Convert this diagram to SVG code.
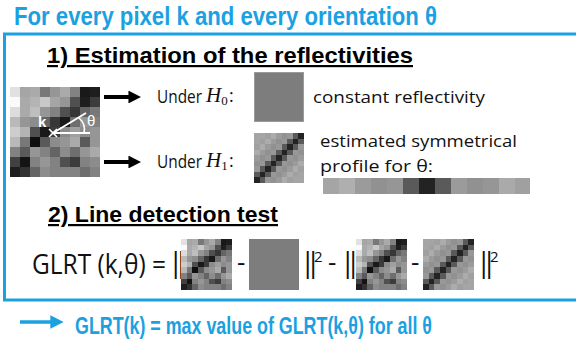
<svg xmlns="http://www.w3.org/2000/svg" xmlns:xlink="http://www.w3.org/1999/xlink" width="576" height="347" viewBox="0 0 576 347">
  <style>
    .blue { fill: #1ba1e2; font-family: "Liberation Sans", Arial, sans-serif; font-weight: bold; }
    .head { fill: #000; font-family: "Liberation Sans", Arial, sans-serif; font-weight: bold; text-decoration: underline; }
    .sans { fill: #111; font-family: "Open Sans", "Noto Sans", sans-serif; }
    .math { fill: #111; font-family: "Liberation Serif", "Times New Roman", serif; font-style: italic; }
    .bar { fill: #111; font-family: "Open Sans", "Noto Sans", sans-serif; font-size: 28px; }
    .frame { fill: none; stroke: #1ba1e2; stroke-width: 3; }
    .arrow { stroke: #000; stroke-width: 4; fill: none; }
  </style>
  <defs>
    <marker id="headBlack" viewBox="0 0 10 10" refX="2" refY="5" markerWidth="3.2" markerHeight="3.2" orient="auto" markerUnits="strokeWidth">
      <path d="M0,0 L10,5 L0,10 Z" fill="#000"/>
    </marker>
    <marker id="headBlue" viewBox="0 0 10 10" refX="2" refY="5" markerWidth="3.8" markerHeight="3.8" orient="auto" markerUnits="strokeWidth">
      <path d="M0,0 L10,5 L0,10 Z" fill="#1ba1e2"/>
    </marker>

    <!-- noisy 9x9 neighbourhood around pixel k -->
    <symbol id="noisy" viewBox="0 0 9 9" preserveAspectRatio="none" shape-rendering="crispEdges">
      <g transform="translate(0,0)">
        <rect x="0" width="1" height="1" fill="#e1e1e1"/><rect x="1" width="1" height="1" fill="#a5a5a5"/><rect x="2" width="1" height="1" fill="#aaaaaa"/><rect x="3" width="1" height="1" fill="#787878"/><rect x="4" width="1" height="1" fill="#969696"/><rect x="5" width="1" height="1" fill="#aaaaaa"/><rect x="6" width="1" height="1" fill="#828282"/><rect x="7" width="1" height="1" fill="#191919"/><rect x="8" width="1" height="1" fill="#1e1e1e"/>
      </g>
      <g transform="translate(0,1)">
        <rect x="0" width="1" height="1" fill="#fafafa"/><rect x="1" width="1" height="1" fill="#aaaaaa"/><rect x="2" width="1" height="1" fill="#b4b4b4"/><rect x="3" width="1" height="1" fill="#c8c8c8"/><rect x="4" width="1" height="1" fill="#a5a5a5"/><rect x="5" width="1" height="1" fill="#969696"/><rect x="6" width="1" height="1" fill="#505050"/><rect x="7" width="1" height="1" fill="#1e1e1e"/><rect x="8" width="1" height="1" fill="#3c3c3c"/>
      </g>
      <g transform="translate(0,2)">
        <rect x="0" width="1" height="1" fill="#dcdcdc"/><rect x="1" width="1" height="1" fill="#aaaaaa"/><rect x="2" width="1" height="1" fill="#bebebe"/><rect x="3" width="1" height="1" fill="#969696"/><rect x="4" width="1" height="1" fill="#828282"/><rect x="5" width="1" height="1" fill="#505050"/><rect x="6" width="1" height="1" fill="#373737"/><rect x="7" width="1" height="1" fill="#646464"/><rect x="8" width="1" height="1" fill="#787878"/>
      </g>
      <g transform="translate(0,3)">
        <rect x="0" width="1" height="1" fill="#b9b9b9"/><rect x="1" width="1" height="1" fill="#969696"/><rect x="2" width="1" height="1" fill="#8c8c8c"/><rect x="3" width="1" height="1" fill="#646464"/><rect x="4" width="1" height="1" fill="#373737"/><rect x="5" width="1" height="1" fill="#191919"/><rect x="6" width="1" height="1" fill="#6e6e6e"/><rect x="7" width="1" height="1" fill="#969696"/><rect x="8" width="1" height="1" fill="#828282"/>
      </g>
      <g transform="translate(0,4)">
        <rect x="0" width="1" height="1" fill="#cdcdcd"/><rect x="1" width="1" height="1" fill="#b4b4b4"/><rect x="2" width="1" height="1" fill="#505050"/><rect x="3" width="1" height="1" fill="#191919"/><rect x="4" width="1" height="1" fill="#3c3c3c"/><rect x="5" width="1" height="1" fill="#8c8c8c"/><rect x="6" width="1" height="1" fill="#a0a0a0"/><rect x="7" width="1" height="1" fill="#8c8c8c"/><rect x="8" width="1" height="1" fill="#969696"/>
      </g>
      <g transform="translate(0,5)">
        <rect x="0" width="1" height="1" fill="#b9b9b9"/><rect x="1" width="1" height="1" fill="#787878"/><rect x="2" width="1" height="1" fill="#0f0f0f"/><rect x="3" width="1" height="1" fill="#5a5a5a"/><rect x="4" width="1" height="1" fill="#8c8c8c"/><rect x="5" width="1" height="1" fill="#969696"/><rect x="6" width="1" height="1" fill="#aaaaaa"/><rect x="7" width="1" height="1" fill="#5a5a5a"/><rect x="8" width="1" height="1" fill="#969696"/>
      </g>
      <g transform="translate(0,6)">
        <rect x="0" width="1" height="1" fill="#828282"/><rect x="1" width="1" height="1" fill="#5a5a5a"/><rect x="2" width="1" height="1" fill="#969696"/><rect x="3" width="1" height="1" fill="#828282"/><rect x="4" width="1" height="1" fill="#646464"/><rect x="5" width="1" height="1" fill="#8c8c8c"/><rect x="6" width="1" height="1" fill="#6e6e6e"/><rect x="7" width="1" height="1" fill="#969696"/><rect x="8" width="1" height="1" fill="#aaaaaa"/>
      </g>
      <g transform="translate(0,7)">
        <rect x="0" width="1" height="1" fill="#414141"/><rect x="1" width="1" height="1" fill="#141414"/><rect x="2" width="1" height="1" fill="#828282"/><rect x="3" width="1" height="1" fill="#969696"/><rect x="4" width="1" height="1" fill="#828282"/><rect x="5" width="1" height="1" fill="#505050"/><rect x="6" width="1" height="1" fill="#3c3c3c"/><rect x="7" width="1" height="1" fill="#828282"/><rect x="8" width="1" height="1" fill="#8c8c8c"/>
      </g>
      <g transform="translate(0,8)">
        <rect x="0" width="1" height="1" fill="#1e1e1e"/><rect x="1" width="1" height="1" fill="#323232"/><rect x="2" width="1" height="1" fill="#646464"/><rect x="3" width="1" height="1" fill="#8c8c8c"/><rect x="4" width="1" height="1" fill="#828282"/><rect x="5" width="1" height="1" fill="#828282"/><rect x="6" width="1" height="1" fill="#828282"/><rect x="7" width="1" height="1" fill="#6e6e6e"/><rect x="8" width="1" height="1" fill="#828282"/>
      </g>
    </symbol>

    <!-- constant reflectivity model (H0) -->
    <symbol id="flat" viewBox="0 0 9 9" preserveAspectRatio="none">
      <rect width="9" height="9" fill="#7d7d7d"/>
    </symbol>

    <!-- symmetrical line model (H1), dark band along the anti-diagonal -->
    <symbol id="line" viewBox="0 0 9 9" preserveAspectRatio="none" shape-rendering="crispEdges">
      <g transform="translate(0,0)">
        <rect x="0" width="1" height="1" fill="#a5a5a5"/><rect x="1" width="1" height="1" fill="#a5a5a5"/><rect x="2" width="1" height="1" fill="#a0a0a0"/><rect x="3" width="1" height="1" fill="#acacac"/><rect x="4" width="1" height="1" fill="#9b9b9b"/><rect x="5" width="1" height="1" fill="#919191"/><rect x="6" width="1" height="1" fill="#989898"/><rect x="7" width="1" height="1" fill="#5a5a5a"/><rect x="8" width="1" height="1" fill="#232323"/>
      </g>
      <g transform="translate(0,1)">
        <rect x="0" width="1" height="1" fill="#a5a5a5"/><rect x="1" width="1" height="1" fill="#a0a0a0"/><rect x="2" width="1" height="1" fill="#acacac"/><rect x="3" width="1" height="1" fill="#9b9b9b"/><rect x="4" width="1" height="1" fill="#919191"/><rect x="5" width="1" height="1" fill="#989898"/><rect x="6" width="1" height="1" fill="#5a5a5a"/><rect x="7" width="1" height="1" fill="#232323"/><rect x="8" width="1" height="1" fill="#5a5a5a"/>
      </g>
      <g transform="translate(0,2)">
        <rect x="0" width="1" height="1" fill="#a0a0a0"/><rect x="1" width="1" height="1" fill="#acacac"/><rect x="2" width="1" height="1" fill="#9b9b9b"/><rect x="3" width="1" height="1" fill="#919191"/><rect x="4" width="1" height="1" fill="#989898"/><rect x="5" width="1" height="1" fill="#5a5a5a"/><rect x="6" width="1" height="1" fill="#232323"/><rect x="7" width="1" height="1" fill="#5a5a5a"/><rect x="8" width="1" height="1" fill="#989898"/>
      </g>
      <g transform="translate(0,3)">
        <rect x="0" width="1" height="1" fill="#acacac"/><rect x="1" width="1" height="1" fill="#9b9b9b"/><rect x="2" width="1" height="1" fill="#919191"/><rect x="3" width="1" height="1" fill="#989898"/><rect x="4" width="1" height="1" fill="#5a5a5a"/><rect x="5" width="1" height="1" fill="#232323"/><rect x="6" width="1" height="1" fill="#5a5a5a"/><rect x="7" width="1" height="1" fill="#989898"/><rect x="8" width="1" height="1" fill="#919191"/>
      </g>
      <g transform="translate(0,4)">
        <rect x="0" width="1" height="1" fill="#9b9b9b"/><rect x="1" width="1" height="1" fill="#919191"/><rect x="2" width="1" height="1" fill="#989898"/><rect x="3" width="1" height="1" fill="#5a5a5a"/><rect x="4" width="1" height="1" fill="#232323"/><rect x="5" width="1" height="1" fill="#5a5a5a"/><rect x="6" width="1" height="1" fill="#989898"/><rect x="7" width="1" height="1" fill="#919191"/><rect x="8" width="1" height="1" fill="#9b9b9b"/>
      </g>
      <g transform="translate(0,5)">
        <rect x="0" width="1" height="1" fill="#919191"/><rect x="1" width="1" height="1" fill="#989898"/><rect x="2" width="1" height="1" fill="#5a5a5a"/><rect x="3" width="1" height="1" fill="#232323"/><rect x="4" width="1" height="1" fill="#5a5a5a"/><rect x="5" width="1" height="1" fill="#989898"/><rect x="6" width="1" height="1" fill="#919191"/><rect x="7" width="1" height="1" fill="#9b9b9b"/><rect x="8" width="1" height="1" fill="#acacac"/>
      </g>
      <g transform="translate(0,6)">
        <rect x="0" width="1" height="1" fill="#989898"/><rect x="1" width="1" height="1" fill="#5a5a5a"/><rect x="2" width="1" height="1" fill="#232323"/><rect x="3" width="1" height="1" fill="#5a5a5a"/><rect x="4" width="1" height="1" fill="#989898"/><rect x="5" width="1" height="1" fill="#919191"/><rect x="6" width="1" height="1" fill="#9b9b9b"/><rect x="7" width="1" height="1" fill="#acacac"/><rect x="8" width="1" height="1" fill="#a0a0a0"/>
      </g>
      <g transform="translate(0,7)">
        <rect x="0" width="1" height="1" fill="#5a5a5a"/><rect x="1" width="1" height="1" fill="#232323"/><rect x="2" width="1" height="1" fill="#5a5a5a"/><rect x="3" width="1" height="1" fill="#989898"/><rect x="4" width="1" height="1" fill="#919191"/><rect x="5" width="1" height="1" fill="#9b9b9b"/><rect x="6" width="1" height="1" fill="#acacac"/><rect x="7" width="1" height="1" fill="#a0a0a0"/><rect x="8" width="1" height="1" fill="#a5a5a5"/>
      </g>
      <g transform="translate(0,8)">
        <rect x="0" width="1" height="1" fill="#232323"/><rect x="1" width="1" height="1" fill="#5a5a5a"/><rect x="2" width="1" height="1" fill="#989898"/><rect x="3" width="1" height="1" fill="#919191"/><rect x="4" width="1" height="1" fill="#9b9b9b"/><rect x="5" width="1" height="1" fill="#acacac"/><rect x="6" width="1" height="1" fill="#a0a0a0"/><rect x="7" width="1" height="1" fill="#a5a5a5"/><rect x="8" width="1" height="1" fill="#a5a5a5"/>
      </g>
    </symbol>
  </defs>

  <rect width="576" height="347" fill="#fff"/>

  <!-- heading -->
  <g id="title">
    <text class="blue" x="14" y="25" font-size="25" textLength="423" lengthAdjust="spacingAndGlyphs">For every pixel k and every orientation θ</text>
  </g>

  <!-- frame around the two steps -->
  <g id="frame">
    <path class="frame" d="M578,34 H4.5 V300 H578"/>
  </g>

  <!-- step 1 -->
  <g id="step1-title">
    <text class="head" x="47" y="63" font-size="22" textLength="366" lengthAdjust="spacingAndGlyphs">1)  Estimation of the reflectivities</text>
  </g>

  <g id="pixel-window">
    <use xlink:href="#noisy" x="10" y="87" width="90" height="90"/>
    <text x="38" y="127" font-family="Liberation Sans, Arial, sans-serif" font-weight="bold" font-size="15" fill="#fff">k</text>
    <path d="M49,129 l8,8 M57,129 l-8,8" stroke="#fff" stroke-width="1.6" fill="none"/>
    <path d="M53,133 L86,113 M53,133 H90" stroke="#fff" stroke-width="2" fill="none"/>
    <path d="M79,118 Q86,124 84,133" stroke="#fff" stroke-width="1.6" fill="none"/>
    <text x="87" y="126" font-family="Liberation Sans, Arial, sans-serif" font-size="15" fill="#fff">θ</text>
  </g>

  <g id="h0-model">
    <text class="sans" x="157" y="103" font-size="18" textLength="45" lengthAdjust="spacingAndGlyphs">Under</text>
    <text class="math" x="206" y="102" font-size="21">H<tspan font-size="13" font-style="normal" dy="3">0</tspan></text>
    <text class="sans" x="229" y="102" font-size="18">:</text>
    <use xlink:href="#flat" x="254" y="72" width="50" height="50"/>
    <rect x="254.5" y="72.5" width="49" height="49" fill="none" stroke="#9a9a9a" stroke-width="1"/>
    <text class="sans" x="313" y="103" font-size="17" textLength="172" lengthAdjust="spacingAndGlyphs">constant reflectivity</text>
  </g>

  <g id="h1-model">
    <text class="sans" x="157" y="168" font-size="18" textLength="45" lengthAdjust="spacingAndGlyphs">Under</text>
    <text class="math" x="206" y="167" font-size="21">H<tspan font-size="13" font-style="normal" dy="3">1</tspan></text>
    <text class="sans" x="229" y="167" font-size="18">:</text>
    <use xlink:href="#line" x="254" y="133" width="50" height="50"/>
    <text class="sans" x="320" y="147" font-size="17" textLength="197" lengthAdjust="spacingAndGlyphs">estimated symmetrical</text>
    <text class="sans" x="320" y="172" font-size="17" textLength="113" lengthAdjust="spacingAndGlyphs">profile for θ:</text>
    <g id="profile" shape-rendering="crispEdges">
      <rect x="323" y="178" width="16" height="16" fill="#a5a5a5"/>
      <rect x="339" y="178" width="16" height="16" fill="#afafaf"/>
      <rect x="355" y="178" width="16" height="16" fill="#9b9b9b"/>
      <rect x="371" y="178" width="16" height="16" fill="#919191"/>
      <rect x="387" y="178" width="16" height="16" fill="#969696"/>
      <rect x="403" y="178" width="16" height="16" fill="#5a5a5a"/>
      <rect x="419" y="178" width="16" height="16" fill="#232323"/>
      <rect x="435" y="178" width="16" height="16" fill="#5a5a5a"/>
      <rect x="451" y="178" width="16" height="16" fill="#9b9b9b"/>
      <rect x="467" y="178" width="16" height="16" fill="#919191"/>
      <rect x="483" y="178" width="16" height="16" fill="#969696"/>
      <rect x="499" y="178" width="16" height="16" fill="#aaaaaa"/>
      <rect x="515" y="178" width="15" height="16" fill="#a0a0a0"/>
    </g>
  </g>

  <!-- step 2 -->
  <g id="step2-title">
    <text class="head" x="48" y="222" font-size="22" textLength="230" lengthAdjust="spacingAndGlyphs">2) Line detection test</text>
  </g>

  <g id="glrt-formula">
    <text class="sans" x="32" y="274" font-size="27" textLength="134" lengthAdjust="spacingAndGlyphs">GLRT (k,θ) =</text>
    <text class="bar" x="168 173.5" y="272">||</text>
    <use xlink:href="#noisy" x="181" y="239" width="51" height="51"/>
    <text class="sans" x="237" y="271" font-size="26">-</text>
    <use xlink:href="#flat" x="249" y="239" width="50" height="51"/>
    <text class="bar" x="300 305.5" y="272">||</text>
    <text class="sans" x="314" y="262" font-size="15">2</text>
    <text class="sans" x="328" y="271" font-size="26">-</text>
    <text class="bar" x="340 345.5" y="272">||</text>
    <use xlink:href="#noisy" x="356" y="239" width="51" height="51"/>
    <text class="sans" x="411" y="271" font-size="26">-</text>
    <use xlink:href="#line" x="423" y="239" width="51" height="51"/>
    <text class="bar" x="476 481.5" y="272">||</text>
    <text class="sans" x="490" y="262" font-size="15">2</text>
  </g>

  <g id="result">
    <text class="blue" x="75" y="334" font-size="24" textLength="357" lengthAdjust="spacingAndGlyphs">GLRT(k) = max value of GLRT(k,θ) for all θ</text>
  </g>

  <g id="connectors">
    <line class="arrow" x1="104" y1="97" x2="131" y2="97" marker-end="url(#headBlack)"/>
    <line class="arrow" x1="104" y1="162" x2="131" y2="162" marker-end="url(#headBlack)"/>
    <line x1="20" y1="322" x2="53" y2="322" stroke="#1ba1e2" stroke-width="3.5" marker-end="url(#headBlue)"/>
  </g>
</svg>
